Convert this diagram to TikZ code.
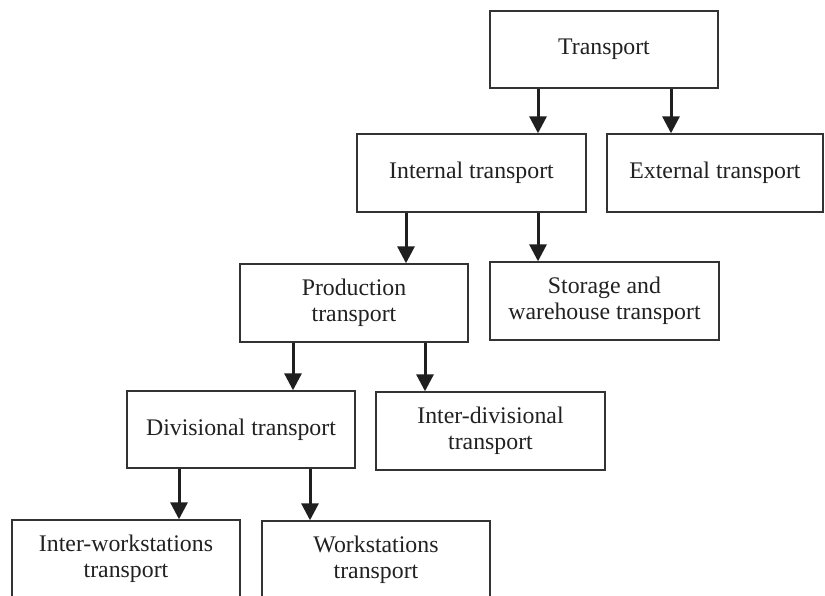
\documentclass[tikz,border=0pt]{standalone}
\usepackage{fontspec}
\setmainfont{Liberation Serif}
\usetikzlibrary{arrows.meta}
\definecolor{boxc}{gray}{0.2}
\definecolor{arrc}{gray}{0.12}
\definecolor{txtc}{gray}{0.13}
\begin{document}
\begin{tikzpicture}[x=1pt,y=-1pt,
  box/.style={draw=boxc, line width=1.4pt, fill=white, inner sep=0pt, align=center,
    font=\fontsize{23.8}{25.5}\selectfont, text=txtc, minimum width=228pt, minimum height=78pt},
  arr/.style={draw=arrc, line width=3pt, -{Triangle[length=17pt,width=17pt]}}]
\clip (0,0) rectangle (825,595);
\fill[white] (0,0) rectangle (825,595);

\node[box, minimum height=77pt] (transport) at (604,49.5) {Transport};
\node[box, minimum width=229pt] (internal) at (471.5,173) {Internal transport};
\node[box, minimum width=216pt] (external) at (715,173) {External transport};
\node[box] (production) at (354,303) {Production\\transport};
\node[box, minimum width=229pt] (storage) at (604.5,301) {Storage and\\warehouse transport};
\node[box, minimum height=77pt] (divisional) at (241,429.5) {Divisional transport};
\node[box, minimum width=229pt] (interdiv) at (490.5,431) {Inter-divisional\\transport};
\node[box] (interws) at (126,559) {Inter-workstations\\transport};
\node[box] (workst) at (376,560) {Workstations\\transport};

\coordinate (a1) at (538,0);
\coordinate (a2) at (671,0);
\coordinate (a3) at (406,0);
\coordinate (a4) at (538,0);
\coordinate (a5) at (293,0);
\coordinate (a6) at (425,0);
\coordinate (a7) at (179,0);
\coordinate (a8) at (310,0);

\draw[arr] (transport.south -| a1) -- (internal.north -| a1);
\draw[arr] (transport.south -| a2) -- (external.north -| a2);
\draw[arr] (internal.south -| a3) -- (production.north -| a3);
\draw[arr] (internal.south -| a4) -- (storage.north -| a4);
\draw[arr] (production.south -| a5) -- (divisional.north -| a5);
\draw[arr] (production.south -| a6) -- (interdiv.north -| a6);
\draw[arr] (divisional.south -| a7) -- (interws.north -| a7);
\draw[arr] (divisional.south -| a8) -- (workst.north -| a8);
\end{tikzpicture}
\end{document}
